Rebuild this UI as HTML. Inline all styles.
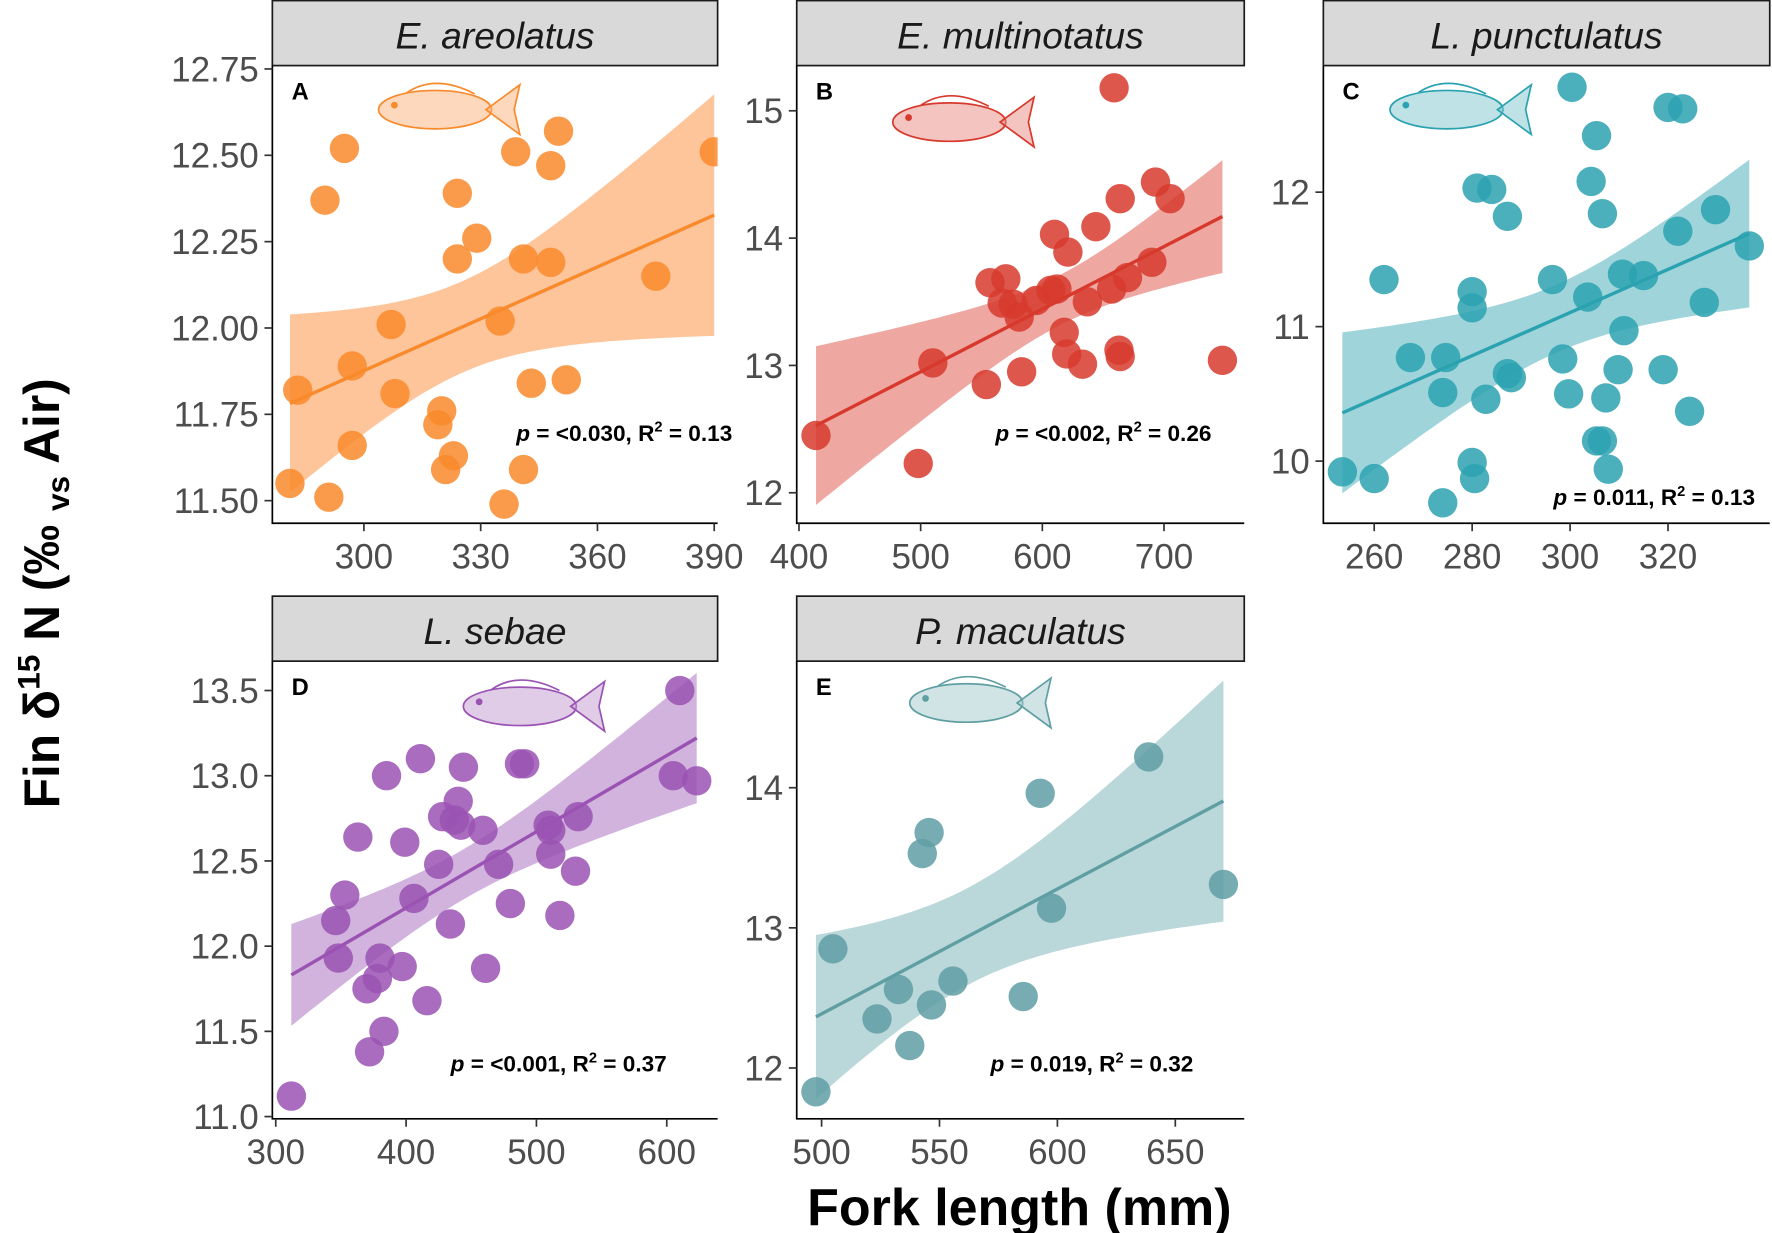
<!DOCTYPE html>
<html><head><meta charset="utf-8"><style>
html,body{margin:0;padding:0;background:#fff}
svg{display:block}
text{font-family:"Liberation Sans",sans-serif}
</style></head><body>
<svg id="fig" width="1772" height="1233" viewBox="0 0 1568 1091" xmlns="http://www.w3.org/2000/svg">
<defs></defs>
<text transform="translate(52,525) rotate(-90)" text-anchor="middle" font-size="44" font-weight="bold" fill="#000">Fin δ<tspan font-size="28" dy="-17">15</tspan><tspan dy="17"> N (‰ </tspan><tspan font-size="28" dy="9">vs</tspan><tspan dy="-9"> Air)</tspan></text>
<text x="902" y="1084" text-anchor="middle" font-size="46" font-weight="bold" fill="#000">Fork length (mm)</text>
</svg>
<script>
// ---- data ----
const aLength=[281,283,290,291,295,297,297,307,308,319,320,321,323,324,324,329,335,336,339,341,341,343,348,348,350,352,375,390];
const aN15=[11.55,11.82,12.37,11.51,12.52,11.89,11.66,12.01,11.81,11.72,11.76,11.59,11.63,12.39,12.20,12.26,12.02,11.49,12.51,12.20,11.59,11.84,12.47,12.19,12.57,11.85,12.15,12.51];
const bLength=[414,498,510,554,557,570,567,576,581,583,595,607,610,612,618,620,621,633,637,644,657,659,663,664,664,670,690,693,705,748];
const bN15=[12.45,12.23,13.02,12.85,13.65,13.68,13.49,13.48,13.38,12.95,13.51,13.59,14.03,13.6,13.26,13.09,13.89,13.01,13.5,14.09,13.6,15.18,13.12,13.07,14.31,13.69,13.81,14.44,14.31,13.04];
const cLength=[253.5,260,262,267.4,274,274,274.6,280,280.5,280,280,281,282.8,284,287.2,288,287.2,296.4,298.5,299.7,300.4,303.6,304.3,305.4,306.6,305.4,306.6,307.3,307.8,309.8,310.7,311,315,319,320,322,323,324.4,327.4,329.7,336.6];
const cN15=[9.92,9.87,11.35,10.77,9.69,10.51,10.77,9.99,9.87,11.26,11.14,12.03,10.46,12.02,10.65,10.62,11.82,11.35,10.76,10.5,12.78,11.22,12.08,12.42,11.84,10.15,10.15,10.47,9.94,10.68,11.39,10.97,11.38,10.68,12.63,11.71,12.62,10.37,11.18,11.87,11.6];
const dLength=[312,346,348,353,363,370,372,378,380,385,383,397,399,406,411,416,425,428,434,437,440,442,444,459,461,471,480,487,491,509,511,511,518,530,532,605,610,623];
const dN15=[11.12,12.15,11.93,12.3,12.64,11.75,11.38,11.81,11.93,13.0,11.5,11.88,12.61,12.28,13.1,11.68,12.48,12.76,12.13,12.74,12.85,12.71,13.05,12.68,11.87,12.48,12.25,13.07,13.07,12.71,12.54,12.68,12.18,12.44,12.76,13.0,13.5,12.97];
const eLength=[497.6,504.8,523.5,532.6,537.4,542.7,545.6,546.6,555.7,585.5,592.7,597.5,638.7,670.4];
const eN15=[11.83,12.85,12.35,12.56,12.16,13.53,13.68,12.45,12.62,12.51,13.96,13.14,14.22,13.31];
const aXTicks=[300,330,360,390], aYTicks=[11.50,11.75,12.00,12.25,12.50,12.75];
const bXTicks=[400,500,600,700], bYTicks=[12,13,14,15];
const cXTicks=[260,280,300,320], cYTicks=[10,11,12];
const dXTicks=[300,400,500,600], dYTicks=[11.0,11.5,12.0,12.5,13.0,13.5];
const eXTicks=[500,550,600,650], eYTicks=[12,13,14];
const speciesNames=["E. areolatus","E. multinotatus","L. punctulatus","L. sebae","P. maculatus"];
const statLabels=[["<0.030","0.13"],["<0.002","0.26"],["0.011","0.13"],["<0.001","0.37"],["0.019","0.32"]];

const NS="http://www.w3.org/2000/svg";
const svg=document.getElementById('fig');
function mk(tag,attrs,parent){const e=document.createElementNS(NS,tag);for(const k in attrs)e.setAttribute(k,attrs[k]);(parent||svg).appendChild(e);return e;}

const panels=[
 {L:241,R:635,T:58,B:463,hT:0,x:aLength,y:aN15,xt:aXTicks,yt:aYTicks,xc:[300,322,390,632],yc:[11.5,443,12.75,61],dec:2,col:"#f98a2c",band:"#fdb27a",letter:"A",st:[648,390],fish:[385,97]},
 {L:705,R:1101,T:58,B:463,hT:0,x:bLength,y:bN15,xt:bXTicks,yt:bYTicks,xc:[400,707,700,1030],yc:[12,436,15,98],dec:0,col:"#d7392d",band:"#e88a82",letter:"B",st:[1072,390],fish:[840,108]},
 {L:1171,R:1566,T:58,B:463,hT:0,x:cLength,y:cN15,xt:cXTicks,yt:cYTicks,xc:[260,1216,320,1476],yc:[10,408,12,170],dec:0,col:"#2ba2b0",band:"#7ec6cd",letter:"C",st:[1553,447],fish:[1280,97]},
 {L:241,R:635,T:585,B:990,hT:527,x:dLength,y:dN15,xt:dXTicks,yt:dYTicks,xc:[300,244,600,590],yc:[11,988,13.5,611],dec:1,col:"#9a52b3",band:"#c39ad1",letter:"D",st:[590,948],fish:[460,625]},
 {L:705,R:1101,T:585,B:990,hT:527,x:eLength,y:eN15,xt:eXTicks,yt:eYTicks,xc:[500,727,650,1040],yc:[12,945,14,697],dec:0,col:"#5f9fa4",band:"#a3c9cc",letter:"E",st:[1056,948],fish:[855,622]}
];

panels.forEach((p,i)=>{
 const sx=v=>p.xc[1]+(v-p.xc[0])*(p.xc[3]-p.xc[1])/(p.xc[2]-p.xc[0]);
 const sy=v=>p.yc[1]+(v-p.yc[0])*(p.yc[3]-p.yc[1])/(p.yc[2]-p.yc[0]);
 const g=mk('g',{});
 
 
 const h=mk('rect',{x:p.L,y:p.hT+0.5,width:p.R-p.L,height:p.T-p.hT-0.5,fill:"#d9d9d9",stroke:"#1a1a1a","stroke-width":1.5},g);
 
 
 const ht=mk('text',{x:(p.L+p.R)/2,y:p.hT+43,"text-anchor":"middle","font-size":33,"font-style":"italic",fill:"#1a1a1a"},g);
 ht.textContent=speciesNames[i];
 
 
 const cid='clip'+i;
 const cp=mk('clipPath',{id:cid},g);mk('rect',{x:p.L,y:p.T,width:p.R-p.L,height:p.B-p.T},cp);
 const pg=mk('g',{"clip-path":"url(#"+cid+")"},g);
 const n=p.x.length;const xm=p.x.reduce((a,b)=>a+b)/n, ym=p.y.reduce((a,b)=>a+b)/n;
 let sxx=0,sxy=0;for(let k=0;k<n;k++){sxx+=(p.x[k]-xm)**2;sxy+=(p.x[k]-xm)*(p.y[k]-ym);}
 const b=sxy/sxx,a=ym-b*xm;let sse=0;for(let k=0;k<n;k++)sse+=(p.y[k]-a-b*p.x[k])**2;
 const s=Math.sqrt(sse/(n-2)),t=2.0+2.6/(n-2);
 const xmin=Math.min(...p.x),xmax=Math.max(...p.x);const up=[],lo=[];
 for(let k=0;k<=60;k++){const xv=xmin+(xmax-xmin)*k/60;const f=a+b*xv;const se=s*Math.sqrt(1/n+(xv-xm)**2/sxx);up.push(sx(xv).toFixed(1)+','+sy(f+t*se).toFixed(1));lo.unshift(sx(xv).toFixed(1)+','+sy(f-t*se).toFixed(1));}
 const band=mk('polygon',{points:up.concat(lo).join(' '),fill:p.band,"fill-opacity":0.75},pg);
 
 
 const ln=mk('line',{x1:sx(xmin),y1:sy(a+b*xmin),x2:sx(xmax),y2:sy(a+b*xmax),stroke:p.col,"stroke-width":3},pg);
 
 
 for(let k=0;k<n;k++){const c=mk('circle',{cx:sx(p.x[k]),cy:sy(p.y[k]),r:13,fill:p.col,"fill-opacity":0.85},pg);
  
  }
 const ax=mk('path',{d:`M${p.L},${p.T}V${p.B}H${p.R}`,fill:"none",stroke:"#000","stroke-width":1.5},g);
 
 
 p.xt.forEach(v=>{mk('line',{x1:sx(v),x2:sx(v),y1:p.B,y2:p.B+7,stroke:"#333","stroke-width":1.5},g);
  const tx=mk('text',{x:sx(v),y:p.B+40,"text-anchor":"middle","font-size":31,fill:"#4d4d4d"},g);tx.textContent=v;
  
  });
 p.yt.forEach(v=>{mk('line',{x1:p.L-7,x2:p.L,y1:sy(v),y2:sy(v),stroke:"#333","stroke-width":1.5},g);
  const ty=mk('text',{x:p.L-12,y:sy(v)+11,"text-anchor":"end","font-size":31,fill:"#4d4d4d"},g);ty.textContent=v.toFixed(p.dec);
  
  });
 const lt=mk('text',{x:p.L+17,y:p.T+30,"font-size":21,"font-weight":"bold",fill:"#000"},g);lt.textContent=p.letter;
 
 
 const st=mk('text',{x:p.st[0],y:p.st[1],"text-anchor":"end","font-size":20,"font-weight":"bold",fill:"#000"},g);
 st.innerHTML=`<tspan font-style="italic">p</tspan> = ${statLabels[i][0].replace('<','&lt;')}, R<tspan font-size="13" dy="-8">2</tspan><tspan dy="8"> = ${statLabels[i][1]}</tspan>`;
 
 
 const fg=mk('g',{transform:`translate(${p.fish[0]},${p.fish[1]})`},g);
 
 
 mk('ellipse',{cx:0,cy:0,rx:50,ry:17,fill:p.band,"fill-opacity":0.5,stroke:p.col,"stroke-width":1.5},fg);
 mk('path',{d:"M45,0 L75,-22 L70,0 L75,22 Z",fill:p.band,"fill-opacity":0.5,stroke:p.col,"stroke-width":1.5},fg);
 mk('path',{d:"M-25,-15 Q0,-32 35,-14",fill:"none",stroke:p.col,"stroke-width":1.5},fg);
 mk('circle',{cx:-36,cy:-4,r:3,fill:p.col},fg);
});
</script>
</body></html>
